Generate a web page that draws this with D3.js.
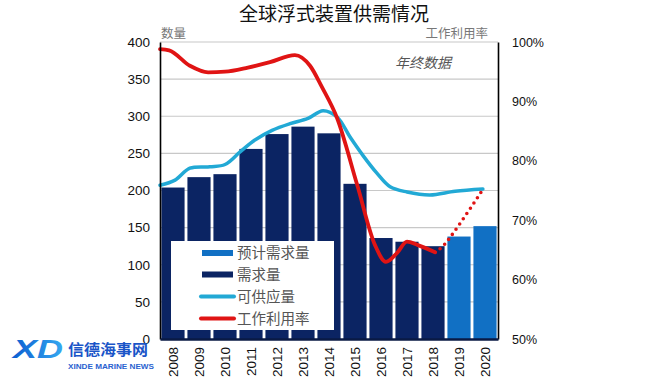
<!DOCTYPE html>
<html><head><meta charset="utf-8">
<script src="https://cdn.jsdelivr.net/npm/d3@7"></script>
<style>
html,body{margin:0;padding:0;background:#fff;}
svg{display:block;}
</style></head>
<body>
<svg id="chart" width="670" height="380"></svg>
<script>
// ---------- data ----------
const years = ["2008","2009","2010","2011","2012","2013","2014","2015","2016","2017","2018","2019","2020"];
const demand = [204, 218, 222, 256, 276, 286, 277, 209, 136, 131, 125, null, null];
const forecastDemand = [null, null, null, null, null, null, null, null, null, null, null, 138, 152];
// supply line (time in decimal years, count)
const supplyT = [2008.00, 2008.58, 2009.15, 2009.92, 2010.50, 2011.08, 2011.65, 2012.31, 2013.00, 2013.69, 2014.27, 2014.81, 2015.31, 2015.81, 2016.35, 2016.85, 2017.50, 2018.38, 2019.35, 2020.42];
const supplyV = [207, 214, 230, 232, 235, 252, 268, 281, 290, 297, 307.5, 299, 272, 247, 223, 205, 198, 194, 199, 202];
// utilisation line (%)
const utilT = [2008.00, 2008.35, 2009.15, 2009.85, 2010.50, 2011.38, 2012.23, 2013.19, 2013.77, 2014.23, 2014.81, 2015.58, 2016.27, 2016.69, 2017.12, 2017.50, 2017.92, 2018.58];
const utilV = [98.8, 98.6, 96.0, 94.9, 95.0, 95.7, 96.6, 97.8, 96.0, 92.4, 87.2, 76.0, 65.8, 63.0, 64.5, 66.4, 65.8, 64.6];
// utilisation forecast (dotted)
const utilFcT = [2018.58, 2018.92, 2020.42];
const utilFcV = [64.6, 65.8, 75.2];
const leftTicks = [0, 50, 100, 150, 200, 250, 300, 350, 400];
const rightTicks = [50, 60, 70, 80, 90, 100];
const legendLabels = ["预计需求量", "需求量", "可供应量", "工作利用率"];
const title = "全球浮式装置供需情况";

// ---------- layout ----------
const L = 160, R = 498, T = 42, B = 339;
const C = {navy:"#0b2463", blue:"#1170c4", cyan:"#22a9d5", red:"#e01414", grid:"#c8c8c8"};
const svg = d3.select("#chart");

const x = d3.scaleBand().domain(years).range([L, R]).paddingInner(0.11).paddingOuter(0.055);
const xt = d3.scaleLinear().domain([2008, 2021]).range([L, R]);
const y = d3.scaleLinear().domain([0, 400]).range([B, T]);
const y2 = d3.scaleLinear().domain([50, 100]).range([B, T]);

// gridlines
svg.append("g").selectAll("line").data(leftTicks.filter(d => d > 0)).join("line")
  .attr("x1", L).attr("x2", R).attr("y1", d => y(d)).attr("y2", d => y(d))
  .attr("stroke", C.grid).attr("stroke-width", 1.2);

// bars
svg.append("g").selectAll("rect").data(years.map((yr,i)=>({yr, v: demand[i]})).filter(d=>d.v!=null)).join("rect")
  .attr("x", d => x(d.yr)).attr("width", x.bandwidth())
  .attr("y", d => y(d.v)).attr("height", d => B - y(d.v)).attr("fill", C.navy);
svg.append("g").selectAll("rect").data(years.map((yr,i)=>({yr, v: forecastDemand[i]})).filter(d=>d.v!=null)).join("rect")
  .attr("x", d => x(d.yr)).attr("width", x.bandwidth())
  .attr("y", d => y(d.v)).attr("height", d => B - y(d.v)).attr("fill", C.blue);

// legend box (drawn over bars)
const lg = svg.append("g");
lg.append("rect").attr("x", 171).attr("y", 241).attr("width", 163).attr("height", 89).attr("fill", "#fff");
const rowY = [253, 274.5, 296.5, 318.5];
lg.append("rect").attr("x", 202).attr("y", rowY[0]-3).attr("width", 31).attr("height", 6).attr("fill", C.blue);
lg.append("rect").attr("x", 202).attr("y", rowY[1]-3).attr("width", 31).attr("height", 6).attr("fill", C.navy);
lg.append("line").attr("x1", 201).attr("x2", 234).attr("y1", rowY[2]).attr("y2", rowY[2]).attr("stroke", C.cyan).attr("stroke-width", 4).attr("stroke-linecap","round");
lg.append("line").attr("x1", 201).attr("x2", 234).attr("y1", rowY[3]).attr("y2", rowY[3]).attr("stroke", C.red).attr("stroke-width", 4).attr("stroke-linecap","round");
lg.selectAll("text").data(legendLabels).join("text")
  .attr("x", 237).attr("y", (d,i) => rowY[i]).attr("dy", "0.36em")
  .attr("font-family", "'Noto Sans CJK SC', sans-serif").attr("font-size", 14.5).attr("fill", "#555")
  .text(d => d);

// lines
const lineGen = d3.line().curve(d3.curveCatmullRom.alpha(0.5));
const lineMono = d3.line().curve(d3.curveMonotoneX);
svg.append("path")
  .attr("d", lineGen(supplyT.map((t,i)=>[xt(t), y(supplyV[i])])))
  .attr("fill", "none").attr("stroke", C.cyan).attr("stroke-width", 3.5).attr("stroke-linecap","round");
svg.append("path")
  .attr("d", lineMono(utilT.map((t,i)=>[xt(t), y2(utilV[i])])))
  .attr("fill", "none").attr("stroke", C.red).attr("stroke-width", 3.8).attr("stroke-linecap","round");
svg.append("path")
  .attr("d", lineGen(utilFcT.map((t,i)=>[xt(t), y2(utilFcV[i])])))
  .attr("fill", "none").attr("stroke", C.red).attr("stroke-width", 3.6)
  .attr("stroke-linecap","round").attr("stroke-dasharray", "0 6.3");

// axes
const yAxisL = d3.axisLeft(y).tickValues(leftTicks).tickSize(0).tickPadding(10);
const gL = svg.append("g").attr("transform", `translate(${L},0)`).call(yAxisL);
gL.select(".domain").attr("stroke", "#000").attr("stroke-width", 1.6);
gL.selectAll("text").attr("font-family", "Liberation Sans, Arial, sans-serif").attr("font-size", 13.5).attr("fill", "#111");

const yAxisR = d3.axisRight(y2).tickValues(rightTicks).tickFormat(d => d + "%").tickSize(0).tickPadding(14);
const gR = svg.append("g").attr("transform", `translate(${R},0)`).call(yAxisR);
gR.select(".domain").attr("stroke", "#000").attr("stroke-width", 1.6);
gR.selectAll("text").attr("font-family", "Liberation Sans, Arial, sans-serif").attr("font-size", 12.5).attr("fill", "#111");

const xAxis = d3.axisBottom(x).tickSize(0).tickPadding(0);
const gX = svg.append("g").attr("transform", `translate(0,${B})`).call(xAxis);
gX.select(".domain").attr("stroke", "#0a1a44").attr("stroke-width", 2.5);
gX.selectAll("text")
  .attr("font-family", "Liberation Sans, Arial, sans-serif").attr("font-size", 13.5).attr("fill", "#111")
  .attr("text-anchor", "end").attr("transform", "rotate(-90)")
  .attr("x", -8).attr("y", 0).attr("dy", "0.36em");

// texts
svg.append("text").attr("x", 334).attr("y", 21)
  .attr("text-anchor", "middle").attr("font-family", "'Noto Sans CJK SC', sans-serif")
  .attr("font-size", 19).attr("fill", "#111").text(title);
svg.append("text").attr("x", 161).attr("y", 38)
  .attr("font-family", "'Noto Sans CJK SC', sans-serif").attr("font-size", 12.5).attr("fill", "#777").text("数量");
svg.append("text").attr("x", 488).attr("y", 38).attr("text-anchor", "end")
  .attr("font-family", "'Noto Sans CJK SC', sans-serif").attr("font-size", 12.5).attr("fill", "#777").text("工作利用率");
svg.append("text").attr("x", 395).attr("y", 68)
  .attr("font-family", "'Noto Sans CJK SC', sans-serif").attr("font-size", 14).attr("font-style", "italic")
  .attr("fill", "#555").text("年终数据");

// watermark
const defs = svg.append("defs");
const grad = defs.append("linearGradient").attr("id", "xdg").attr("x1", 0).attr("x2", 1).attr("y1", 0).attr("y2", 0);
grad.append("stop").attr("offset", "0%").attr("stop-color", "#0a5bd0");
grad.append("stop").attr("offset", "100%").attr("stop-color", "#35a8f0");
svg.append("text").attr("x", 13).attr("y", 358)
  .attr("font-family", "Liberation Sans, Arial, sans-serif").attr("font-weight", 900).attr("font-style", "italic")
  .attr("font-size", 25).attr("textLength", 50).attr("lengthAdjust", "spacingAndGlyphs")
  .attr("fill", "url(#xdg)").text("XD");
svg.append("text").attr("x", 68).attr("y", 355)
  .attr("font-family", "'Noto Sans CJK SC', sans-serif").attr("font-weight", 700)
  .attr("font-size", 15).attr("textLength", 80).attr("lengthAdjust", "spacingAndGlyphs")
  .attr("fill", "#1a55c8").text("信德海事网");
svg.append("text").attr("x", 68).attr("y", 369)
  .attr("font-family", "Liberation Sans, Arial, sans-serif").attr("font-weight", 700)
  .attr("font-size", 7).attr("textLength", 86).attr("lengthAdjust", "spacingAndGlyphs")
  .attr("fill", "#2a62d0").text("XINDE MARINE NEWS");
</script>
</body></html>
